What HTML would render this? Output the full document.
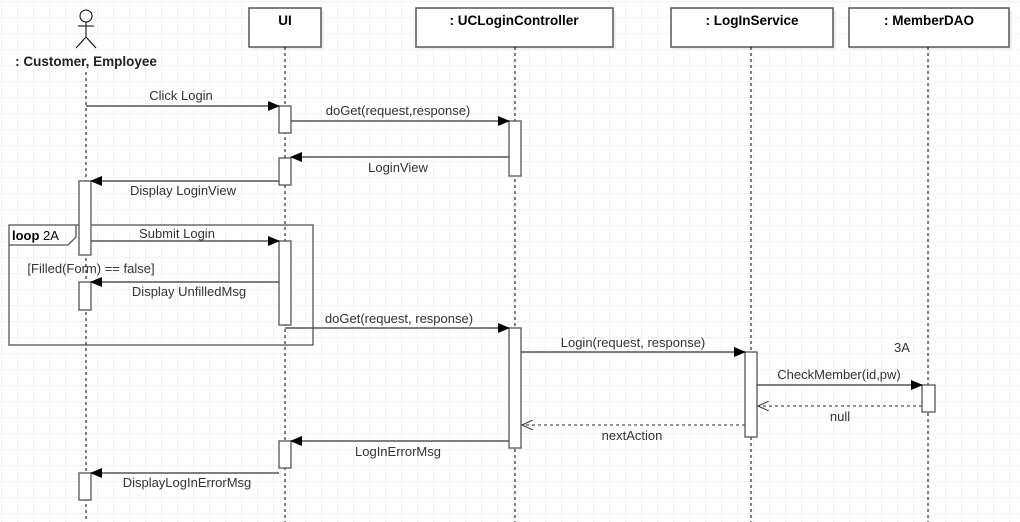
<!DOCTYPE html>
<html><head><meta charset="utf-8"><style>
html,body{margin:0;padding:0;background:#fff;}
svg{display:block;font-family:"Liberation Sans",Arial,sans-serif;}
</style></head><body>
<svg width="1020" height="522" xmlns="http://www.w3.org/2000/svg">
<defs>
<pattern id="g" width="16" height="16" patternUnits="userSpaceOnUse" x="1" y="1">
<path d="M0 0H16M0 0V16" stroke="#e6e6e6" stroke-width="1" fill="none"/>
</pattern>
<marker id="a" markerWidth="12" markerHeight="10" refX="11" refY="5" orient="auto" markerUnits="userSpaceOnUse"><path d="M0 0L12 5L0 10z" fill="#000"/></marker>
<marker id="o" markerWidth="12" markerHeight="10" refX="11" refY="5" orient="auto" markerUnits="userSpaceOnUse"><path d="M0 0L11 5L0 10" fill="none" stroke="#333"/></marker>
</defs>
<rect width="1020" height="522" fill="url(#g)"/>
<g font-size="13" fill="#333" text-anchor="middle">
<!-- headers -->
<g fill="#000" font-weight="bold" font-size="13.5">
<rect x="252" y="11" width="72" height="39" fill="#eee" stroke="none"/>
<rect x="249" y="8" width="72" height="39" fill="#fff" stroke="#555" stroke-width="1.5"/>
<text x="285" y="25">UI</text>
<rect x="419" y="11" width="197" height="39" fill="#eee"/>
<rect x="416" y="8" width="197" height="39" fill="#fff" stroke="#555" stroke-width="1.5"/>
<text x="514" y="25">: UCLoginController</text>
<rect x="674" y="11" width="162" height="39" fill="#eee"/>
<rect x="671" y="8" width="162" height="39" fill="#fff" stroke="#555" stroke-width="1.5"/>
<text x="752" y="25">: LogInService</text>
<rect x="852" y="11" width="160" height="39" fill="#eee"/>
<rect x="849" y="8" width="160" height="39" fill="#fff" stroke="#555" stroke-width="1.5"/>
<text x="929" y="25">: MemberDAO</text>
<text x="86" y="66" fill="#222">: Customer, Employee</text>
</g>
<!-- actor -->
<g stroke="#000" fill="none">
<circle cx="86" cy="16" r="6" fill="#fff"/>
<path d="M86 22V37M78 26H94M86 37L76 48M86 37L96 48"/>
</g>
<!-- lifelines -->
<g stroke="#000" stroke-dasharray="3,3" stroke-width="1">
<path d="M86 72V522M285 47V522M515 47V522M751 47V522M928 47V522"/>
</g>
<!-- loop frame -->
<g stroke="#555" stroke-width="1.3" fill="none">
<rect x="9" y="225" width="304" height="120"/>
<path d="M9 245H68L76 237V225"/>
</g>
<text x="12" y="240" text-anchor="start" fill="#000"><tspan font-weight="bold">loop</tspan> 2A</text>
<!-- activations -->
<g fill="#fff" stroke="#555" stroke-width="1.3">
<rect x="279" y="106" width="12" height="27"/>
<rect x="279" y="158" width="12" height="27"/>
<rect x="279" y="241" width="12" height="84"/>
<rect x="279" y="441" width="12" height="27"/>
<rect x="509" y="121" width="12" height="55"/>
<rect x="509" y="328" width="12" height="120"/>
<rect x="79" y="181" width="12" height="74"/>
<rect x="79" y="282" width="12" height="28"/>
<rect x="79" y="473" width="12" height="27"/>
<rect x="745" y="352" width="12" height="85"/>
<rect x="922" y="385" width="13" height="27"/>
</g>
<!-- messages -->
<g stroke="#555" stroke-width="1.5" fill="none">
<path d="M86 106H279" marker-end="url(#a)"/>
<path d="M291 121H509" marker-end="url(#a)"/>
<path d="M509 157H291" marker-end="url(#a)"/>
<path d="M279 181H91" marker-end="url(#a)"/>
<path d="M91 241H279" marker-end="url(#a)"/>
<path d="M279 282H91" marker-end="url(#a)"/>
<path d="M285 328H509" marker-end="url(#a)"/>
<path d="M521 352H745" marker-end="url(#a)"/>
<path d="M757 385H922" marker-end="url(#a)"/>
<path d="M922 406H758" stroke-dasharray="3,3" marker-end="url(#o)" stroke-width="1.2"/>
<path d="M745 425H522" stroke-dasharray="3,3" marker-end="url(#o)" stroke-width="1.2"/>
<path d="M509 441H291" marker-end="url(#a)"/>
<path d="M279 473H91" marker-end="url(#a)"/>
</g>
<text x="181" y="100">Click Login</text>
<text x="398" y="115">doGet(request,response)</text>
<text x="398" y="172">LoginView</text>
<text x="183" y="195">Display LoginView</text>
<text x="177" y="238">Submit Login</text>
<text x="91" y="273">[Filled(Form) == false]</text>
<text x="189" y="296">Display UnfilledMsg</text>
<text x="399" y="323">doGet(request, response)</text>
<text x="633" y="347">Login(request, response)</text>
<text x="902" y="352">3A</text>
<text x="839" y="379">CheckMember(id,pw)</text>
<text x="840" y="421">null</text>
<text x="632" y="440">nextAction</text>
<text x="398" y="456">LogInErrorMsg</text>
<text x="187" y="487">DisplayLogInErrorMsg</text>
</g>
</svg>
</body></html>
